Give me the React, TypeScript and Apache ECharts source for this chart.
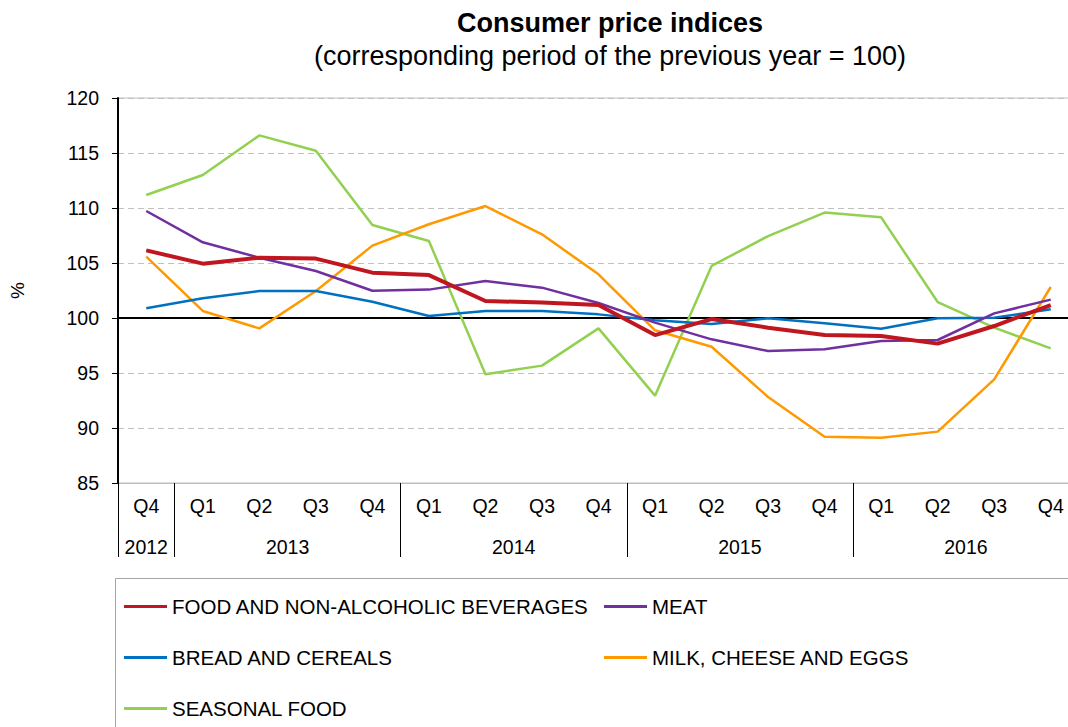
import React, { useEffect, useRef } from "react";
import * as echarts from "echarts";

const categories = ["Q4", "Q1", "Q2", "Q3", "Q4", "Q1", "Q2", "Q3", "Q4", "Q1", "Q2", "Q3", "Q4", "Q1", "Q2", "Q3", "Q4"];
const years = ["2012", "2013", "2014", "2015", "2016"];
const yearSizes = [1, 4, 4, 4, 4];

const food = [106.15, 104.94, 105.48, 105.4, 104.12, 103.9, 101.55, 101.4, 101.18, 98.45, 99.9, 99.12, 98.45, 98.36, 97.67, 99.27, 101.18];
const meat = [109.73, 106.88, 105.48, 104.27, 102.48, 102.58, 103.36, 102.76, 101.36, 99.58, 98.06, 97.0, 97.15, 97.9, 98.0, 100.42, 101.67];
const bread = [100.88, 101.79, 102.45, 102.45, 101.48, 100.18, 100.64, 100.64, 100.33, 99.79, 99.45, 99.97, 99.52, 99.03, 99.97, 100.03, 100.79];
const milk = [105.58, 100.64, 99.06, 102.45, 106.58, 108.52, 110.18, 107.61, 103.97, 98.88, 97.39, 92.82, 89.21, 89.12, 89.67, 94.42, 102.82];
const seasonal = [111.18, 113.0, 116.6, 115.2, 108.45, 107.0, 94.88, 95.67, 99.06, 92.94, 104.73, 107.45, 109.58, 109.15, 101.45, 99.12, 97.24];

const yTicks = { min: 85, max: 120, interval: 5 };

const names = {
  food: "FOOD AND NON-ALCOHOLIC BEVERAGES",
  meat: "MEAT",
  bread: "BREAD AND CEREALS",
  milk: "MILK, CHEESE AND EGGS",
  seasonal: "SEASONAL FOOD",
};

export default function App() {
  const ref = useRef<HTMLDivElement>(null);
  useEffect(() => {
    if (!ref.current) return;
    const chart = echarts.init(ref.current, undefined, { renderer: "svg" });
    const font = "Liberation Sans, Arial, sans-serif";

    const boundaries: number[] = [0];
    const centers: number[] = [];
    let acc = 0;
    yearSizes.forEach((s) => {
      centers.push(acc + s / 2);
      acc += s;
      boundaries.push(acc);
    });

    const mk = (name: string, data: number[], color: string, width: number, extra: any = {}) => ({
      name,
      type: "line",
      data,
      symbol: "none",
      lineStyle: { color, width },
      itemStyle: { color },
      xAxisIndex: 0,
      ...extra,
    });

    const legendBase = {
      orient: "vertical",
      top: 596,
      padding: 0,
      icon: "rect",
      itemWidth: 43,
      itemHeight: 3,
      itemGap: 30,
      textStyle: { color: "#000", fontSize: 20.5, fontFamily: font },
    };

    chart.setOption({
      animation: false,
      textStyle: { fontFamily: font },
      graphic: [
        {
          type: "text",
          x: 610,
          y: 23,
          style: { text: "Consumer price indices", font: `bold 27px ${font}`, fill: "#000", align: "center", verticalAlign: "middle" },
        },
        {
          type: "text",
          x: 610,
          y: 56,
          style: { text: "(corresponding period of the previous year = 100)", font: `27px ${font}`, fill: "#000", align: "center", verticalAlign: "middle" },
        },
        {
          type: "rect",
          shape: { x: 115.5, y: 578.5, width: 1000, height: 200 },
          style: { fill: "none", stroke: "#a6a6a6", lineWidth: 1 },
          z: -1,
        },
      ],
      grid: {
        left: 118,
        top: 98,
        width: 961,
        height: 385,
        show: true,
        borderColor: "#bfbfbf",
        borderWidth: 1,
        containLabel: false,
        outerBoundsMode: "none",
      },
      xAxis: [
        {
          type: "category",
          data: categories,
          boundaryGap: true,
          position: "bottom",
          axisLine: { show: true, lineStyle: { color: "#bfbfbf", width: 1 } },
          axisTick: { show: false },
          axisLabel: { color: "#000", fontSize: 19.5, margin: 13, interval: 0, fontFamily: font },
          splitLine: { show: false },
        },
        {
          type: "value",
          min: 0,
          max: categories.length,
          position: "bottom",
          axisLine: { show: false },
          axisTick: { show: true, customValues: boundaries, length: 74, inside: false, lineStyle: { color: "#000", width: 1 } },
          axisLabel: {
            show: true,
            customValues: centers,
            margin: 54,
            color: "#000",
            fontSize: 19.5,
            fontFamily: font,
            formatter: (v: number) => {
              const i = centers.findIndex((c) => Math.abs(c - v) < 1e-6);
              return i >= 0 ? years[i] : "";
            },
          },
          splitLine: { show: false },
        },
      ],
      yAxis: {
        type: "value",
        min: yTicks.min,
        max: yTicks.max,
        interval: yTicks.interval,
        name: "%",
        nameLocation: "middle",
        nameGap: 91,
        nameRotate: 90,
        nameTextStyle: { color: "#000", fontSize: 19, fontFamily: font },
        axisLine: { show: true, lineStyle: { color: "#000", width: 2 } },
        axisTick: { show: true, length: 6, lineStyle: { color: "#000" } },
        axisLabel: { color: "#000", fontSize: 19.5, margin: 19, fontFamily: font },
        splitLine: { show: true, lineStyle: { color: "#bfbfbf", type: [6, 4], width: 1 } },
      },
      legend: [
        { ...legendBase, data: [names.food, names.bread, names.seasonal], left: 124 },
        { ...legendBase, data: [names.meat, names.milk], left: 604 },
      ],
      series: [
        mk(names.seasonal, seasonal, "#92D050", 2.5),
        mk(names.milk, milk, "#FF9900", 2.5),
        mk(names.bread, bread, "#0070C0", 2.5),
        mk(names.meat, meat, "#7030A0", 2.5),
        mk(names.food, food, "#C0161F", 4, {
          markLine: {
            silent: true,
            symbol: "none",
            label: { show: false },
            lineStyle: { color: "#000", width: 2, type: "solid" },
            data: [{ yAxis: 100 }],
            z: 1,
          },
        }),
      ],
    });
    return () => chart.dispose();
  }, []);
  return (
    <div style={{ position: "absolute", left: 0, top: 0, width: 1068, height: 727, overflow: "hidden" }}>
      <div ref={ref} style={{ position: "absolute", left: 0, top: 0, width: 1090, height: 727 }} />
    </div>
  );
}
